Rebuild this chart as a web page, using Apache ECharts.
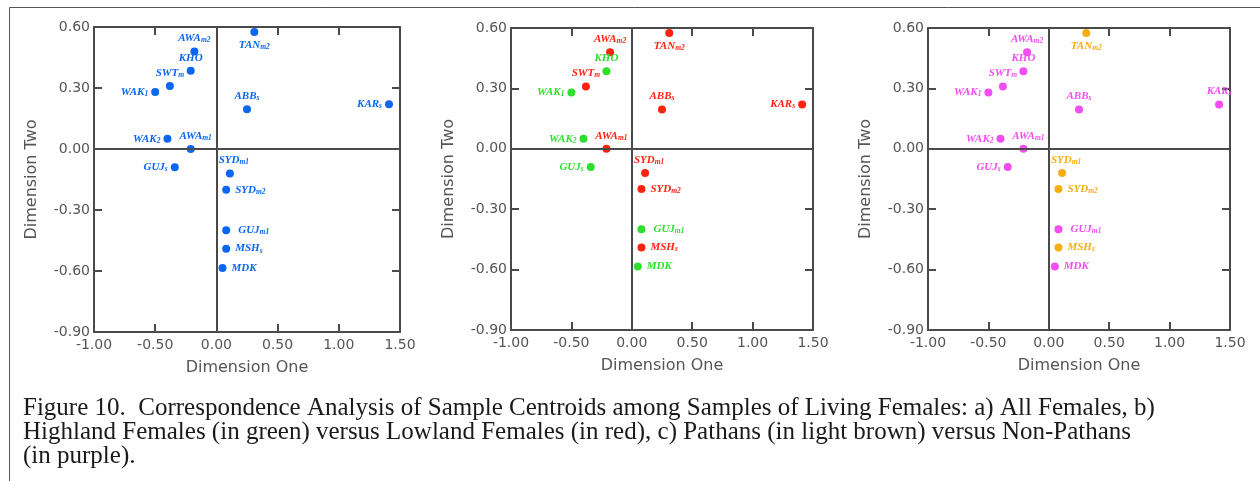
<!DOCTYPE html>
<html><head><meta charset="utf-8">
<script src="https://cdn.jsdelivr.net/npm/echarts@6/dist/echarts.min.js"></script>
<style>html,body{margin:0;padding:0;background:#fff}#c{width:1260px;height:481px}</style>
</head><body><div id="c"></div>
<script>
// ---- data ----
const sampleNames = ['AWA','KHO','SWT','WAK','TAN','ABB','KAR','WAK','AWA','GUJ','SYD','SYD','GUJ','MSH','MDK'];
const sampleSubs  = ['m2','','m','1','m2','s','s','2','m1','s','m1','m2','m1','s',''];
const dimOne = [-0.18, -0.21, -0.38, -0.50, 0.31, 0.25, 1.41, -0.40, -0.21, -0.34, 0.11, 0.08, 0.08, 0.08, 0.05];
const dimTwo = [0.48, 0.385, 0.31, 0.28, 0.575, 0.195, 0.22, 0.05, 0.00, -0.09, -0.12, -0.20, -0.40, -0.49, -0.585];
const highland = [0,1,0,1,0,0,0,1,0,1,0,0,1,0,1]; // 1 = highland (green), 0 = lowland (red)
const pathan   = [0,0,0,0,1,0,0,0,0,0,1,1,0,1,0]; // 1 = Pathan (light brown), 0 = non-Pathan (purple)
const xTickLabels = ['-1.00','-0.50','0.00','0.50','1.00','1.50'];
const yTickLabels = ['-0.90','-0.60','-0.30','0.00','0.30','0.60'];
const captionLines = [
  'Figure 10.  Correspondence Analysis of Sample Centroids among Samples of Living Females: a) All Females, b)',
  'Highland Females (in green) versus Lowland Females (in red), c) Pathans (in light brown) versus Non-Pathans',
  '(in purple).'
];

// ---- layout / style ----
const labelSide = ['top','top','top','left','bottom','top','left','left','top','left','top','right','right','right','right'];
const labelOffset = {8:[5,0], 10:[4,0], 12:[3,0]};
const grids = [
  {left:94, top:27, width:306, height:305},
  {left:511, top:28, width:302, height:302},
  {left:928, top:28, width:302, height:302}
];
const C = {blue:'#0b66f2', red:'#ff2410', green:'#2ee02e', pink:'#f24ef2', orange:'#f7ae12'};
const axisColor = '#4a4a4a';
const textGray = '#555';

function fmtTick(v, list){
  const s = v.toFixed(2);
  return list.indexOf(s) >= 0 ? s : (v === 0 ? '0.00' : s);
}

const xAxis = [], yAxis = [], series = [];
grids.forEach((g, gi) => {
  const common = {
    gridIndex: gi, type: 'value', splitLine: {show:false},
    axisLine: {show:true, onZero:false, lineStyle:{color:axisColor, width:2}},
    axisTick: {show:true, inside:true, length:8, lineStyle:{color:axisColor, width:2}}
  };
  xAxis.push(Object.assign({}, common, {
    position:'bottom', min:-1, max:1.5, interval:0.5,
    axisLabel:{show:true, margin:6, color:textGray, fontSize:14, fontFamily:'DejaVu Sans',
      formatter:v=>fmtTick(v, xTickLabels)},
    name:'Dimension One', nameLocation:'middle', nameGap:28,
    nameTextStyle:{color:textGray, fontSize:16, fontFamily:'DejaVu Sans'}
  }));
  xAxis.push(Object.assign({}, common, {position:'top', min:-1, max:1.5, interval:0.5, axisLabel:{show:false}}));
  yAxis.push(Object.assign({}, common, {
    position:'left', min:-0.9, max:0.6, interval:0.3,
    axisLabel:{show:true, margin:4, color:textGray, fontSize:14, fontFamily:'DejaVu Sans',
      formatter:v=>fmtTick(Math.abs(v)<1e-9?0:v, yTickLabels)},
    name:'Dimension Two', nameLocation:'middle', nameGap:54, nameRotate:90,
    nameTextStyle:{color:textGray, fontSize:16, fontFamily:'DejaVu Sans'}
  }));
  yAxis.push(Object.assign({}, common, {position:'right', min:-0.9, max:0.6, interval:0.3, axisLabel:{show:false}}));
});

function richFor(color){
  const base = {fontFamily:'Liberation Serif', fontStyle:'italic', fontWeight:'bold', color:color};
  return {
    m: Object.assign({fontSize:11, lineHeight:12}, base),
    s: Object.assign({fontSize:7.5, lineHeight:12, verticalAlign:'bottom', padding:[3,0,0,0]}, base)
  };
}
function makeSeries(gi, color, filter, panelSide){
  const data = [];
  dimOne.forEach((x, i) => {
    if (!filter(i)) return;
    const side = (panelSide && panelSide[i]) || labelSide[i];
    const item = {value:[x, dimTwo[i], i], label:{position:side, distance: side==='right'?5:3}};
    if (labelOffset[i]) item.label.offset = labelOffset[i];
    data.push(item);
  });
  return {
    type:'scatter', xAxisIndex:gi*2, yAxisIndex:gi*2, symbolSize:8,
    itemStyle:{color:color, opacity:1}, data:data, silent:true,
    label:{show:true, color:color,
      formatter:p=>{const i=p.value[2]; return '{m|'+sampleNames[i]+'}'+(sampleSubs[i]?'{s|'+sampleSubs[i]+'}':'');},
      rich:richFor(color)}
  };
}
const zeroLines = {silent:true, symbol:'none', label:{show:false},
  lineStyle:{color:axisColor, width:2, type:'solid'}, data:[{xAxis:0},{yAxis:0}], animation:false};

const s1 = makeSeries(0, C.blue, i=>true);
s1.markLine = zeroLines;
const s2a = makeSeries(1, C.red, i=>!highland[i]);
s2a.markLine = zeroLines;
const s2b = makeSeries(1, C.green, i=>!!highland[i]);
const panel3Side = {6:'top'};
const s3a = makeSeries(2, C.pink, i=>!pathan[i], panel3Side);
s3a.markLine = zeroLines;
const s3b = makeSeries(2, C.orange, i=>!!pathan[i], panel3Side);
series.push(s1, s2a, s2b, s3a, s3b);

const chart = echarts.init(document.getElementById('c'), null, {renderer:'canvas'});
chart.setOption({
  animation:false,
  backgroundColor:'#fff',
  grid: grids,
  xAxis: xAxis,
  yAxis: yAxis,
  series: series,
  graphic: [
    {type:'polyline', shape:{points:[[9.5,481],[9.5,7.5],[1260,7.5]]}, style:{stroke:'#555', lineWidth:1, fill:null}},
    {type:'text', left:23, top:396, style:{text:captionLines.join('\n'), font:'25px "Liberation Serif"', lineHeight:24, fill:'#1a1a1a'}}
  ]
});
</script></body></html>
